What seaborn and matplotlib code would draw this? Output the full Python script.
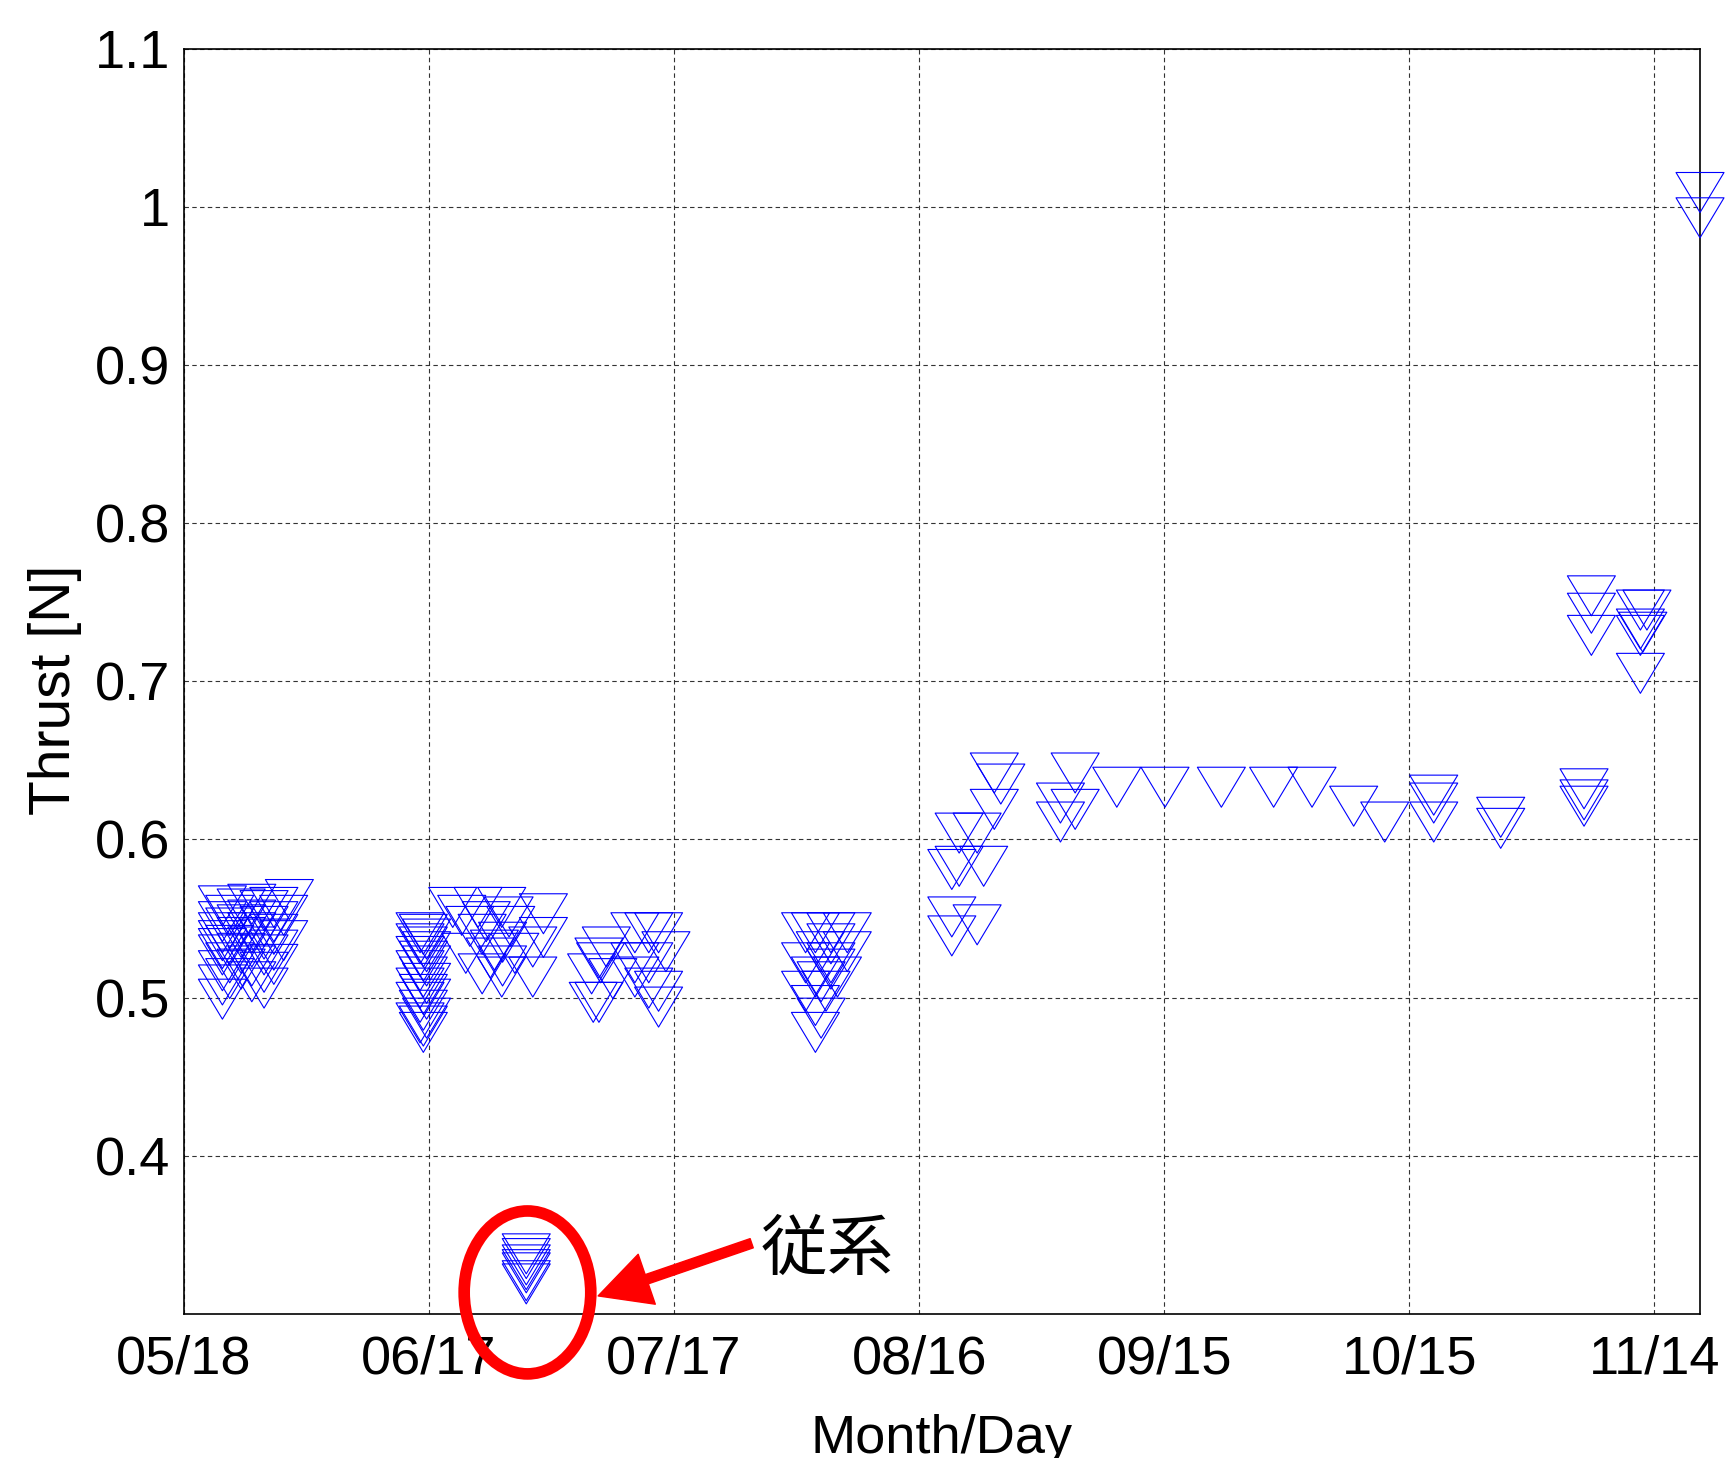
import numpy as np
import pandas as pd
import matplotlib.pyplot as plt
import seaborn as sns
from matplotlib.path import Path
from matplotlib.patches import Ellipse

# Axis ticks (x counted in days from 05/18)
tick_days = [0, 30, 60, 90, 120, 150, 180]
tick_labels = ["05/18", "06/17", "07/17", "08/16", "09/15", "10/15", "11/14"]
y_ticks = [0.4, 0.5, 0.6, 0.7, 0.8, 0.9, 1.0, 1.1]
y_labels = ["0.4", "0.5", "0.6", "0.7", "0.8", "0.9", "1", "1.1"]

# Main thruster measurements
main_days = [
    4.7, 4.7, 4.7, 4.7, 4.7, 4.7, 4.7, 4.7, 4.7,
    5.6, 5.6, 5.6, 5.6, 5.6,
    7.0, 7.0, 7.0, 7.0, 7.0,
    8.3, 8.3, 8.3, 8.3, 8.3, 8.3,
    9.8, 9.8, 9.8, 9.8, 9.8, 9.8,
    11.0, 11.0, 11.0, 11.0, 11.0,
    12.2, 12.2, 12.9,
    28.9, 29.3, 29.7, 28.9, 29.3, 29.7, 28.9, 29.3, 29.7, 28.9, 29.3,
    29.7, 28.9, 29.3, 29.7, 28.9, 29.3, 29.7, 28.9, 29.3, 29.3,
    32.9, 36.0, 38.9, 34.0, 39.8, 37.0, 40.0, 36.5, 39.0, 38.0,
    34.5, 37.5, 40.5, 39.0, 36.5, 38.9, 44.0, 44.0, 42.7, 42.7, 35.0,
    50.1, 50.8, 49.9, 50.8, 51.7, 51.0, 52.5,
    55.2, 56.9, 58.1, 59.0, 55.2, 56.9, 55.2, 56.9, 58.1, 58.1,
    76.1, 77.3, 79.2, 81.2, 79.2, 77.9, 81.2, 76.1, 79.2, 79.2,
    77.3, 80.0, 78.0, 76.1, 78.6, 77.3, 78.0, 77.3,
    99.2, 100.0, 99.2, 94.9, 97.1, 94.9, 97.9, 94.0, 94.0, 97.1, 94.0,
    109.1, 107.3, 109.1, 107.3, 114.2, 120.1, 127.0, 133.4, 138.1,
    143.2, 147.0, 153.0, 153.0, 153.0, 161.2, 161.2,
    171.4, 171.4, 171.4,
    172.3, 172.3, 172.3, 178.3, 179.1, 178.3, 178.6, 178.3, 178.3,
    185.6, 185.6,
]
main_thrust = [
    0.558, 0.548, 0.541, 0.536, 0.531, 0.527, 0.517, 0.508, 0.499,
    0.552, 0.544, 0.533, 0.522, 0.512,
    0.556, 0.546, 0.538, 0.528, 0.518,
    0.559, 0.549, 0.541, 0.532, 0.520, 0.510,
    0.555, 0.545, 0.537, 0.527, 0.516, 0.506,
    0.557, 0.548, 0.540, 0.530, 0.521,
    0.552, 0.536, 0.562,
    0.541, 0.540, 0.537, 0.534, 0.532, 0.529, 0.526, 0.523, 0.520, 0.517, 0.513,
    0.509, 0.506, 0.502, 0.499, 0.497, 0.492, 0.487, 0.484, 0.482, 0.478,
    0.557, 0.557, 0.557, 0.552, 0.551, 0.548, 0.545, 0.540, 0.535, 0.530,
    0.528, 0.525, 0.528, 0.520, 0.515, 0.513, 0.553, 0.538, 0.532, 0.513, 0.545,
    0.497, 0.497, 0.515, 0.525, 0.532, 0.522, 0.512,
    0.541, 0.541, 0.541, 0.529, 0.522, 0.522, 0.513, 0.506, 0.504, 0.494,
    0.541, 0.541, 0.541, 0.541, 0.534, 0.529, 0.529, 0.522, 0.522, 0.518,
    0.513, 0.513, 0.510, 0.504, 0.504, 0.495, 0.487, 0.478,
    0.642, 0.635, 0.619, 0.604, 0.604, 0.583, 0.583, 0.581, 0.551, 0.546, 0.539,
    0.642, 0.623, 0.619, 0.611, 0.633, 0.633, 0.633, 0.633, 0.633,
    0.621, 0.611, 0.628, 0.623, 0.611, 0.614, 0.607,
    0.632, 0.625, 0.621,
    0.754, 0.743, 0.729, 0.745, 0.745, 0.733, 0.731, 0.729, 0.705,
    1.009, 0.993,
]

# Follower (従系) measurements
follower_days = [41.9, 41.9, 41.9, 41.9, 41.9, 41.9, 41.9]
follower_thrust = [0.338, 0.335, 0.331, 0.328, 0.326, 0.321, 0.319]

df = pd.DataFrame({
    "day": main_days + follower_days,
    "thrust": main_thrust + follower_thrust,
})

sns.set_style("white")
plt.rcParams["font.family"] = ["Liberation Sans", "Noto Sans CJK JP", "DejaVu Sans"]
plt.rcParams["text.color"] = "black"
plt.rcParams["axes.labelcolor"] = "black"

fig = plt.figure(figsize=(17.31, 14.58), dpi=100)
ax = fig.add_axes([0.1063, 0.0988, 0.8758, 0.8679])

# Downward triangle, a bit wider than tall
tri = Path([(-0.6, 0.5), (0.6, 0.5), (0.0, -0.5), (0.0, 0.0)], closed=True)
sns.scatterplot(data=df, x="day", y="thrust", marker=tri, s=1194,
                facecolor="none", edgecolor="#0000ff", linewidth=0.8,
                ax=ax, clip_on=False, zorder=3)
for coll in ax.collections:
    coll.set_facecolor("none")
    coll.set_edgecolor("#0000ff")

ax.set_xlim(0, 185.6)
ax.set_ylim(0.3, 1.1)
ax.set_xticks(tick_days)
ax.set_xticklabels(tick_labels)
ax.set_yticks(y_ticks)
ax.set_yticklabels(y_labels)
ax.grid(True, color="#333333", linestyle=(0, (4, 3)), linewidth=0.8)
ax.tick_params(direction="in", length=8, width=1, labelsize=39, colors="black")
ax.tick_params(axis="x", pad=15)
ax.tick_params(axis="y", pad=10)
for sp in ax.spines.values():
    sp.set_color("black")
    sp.set_linewidth(1.2)

ax.set_xlabel("Month/Day", fontsize=39)
ax.set_ylabel("Thrust [N]", fontsize=41)
ax.xaxis.set_label_coords(0.5, -0.079)
ax.yaxis.set_label_coords(-0.067, 0.493)

# Highlight the follower points
ax.add_patch(Ellipse((42.05, 0.3136), width=15.5, height=0.103, fill=False,
                     edgecolor="red", linewidth=8.4, clip_on=False, zorder=5))
ax.annotate("", xy=(50.7, 0.3114), xytext=(69.5, 0.3447), annotation_clip=False,
            arrowprops=dict(facecolor="red", edgecolor="red", width=7,
                            headwidth=38, headlength=37, shrink=0))
ax.text(70.6, 0.3395, "従系", fontsize=48, va="center", ha="left",
        family=["Noto Sans CJK JP"])

plt.savefig("out.png", dpi=100)
